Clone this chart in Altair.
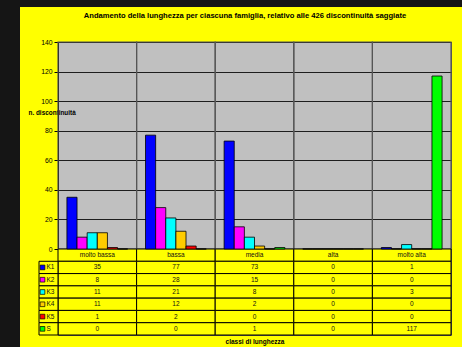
import altair as alt
import pandas as pd

# Classi di lunghezza e famiglie di discontinuità
categorie = ["molto bassa", "bassa", "media", "alta", "molto alta"]
famiglie = ["K1", "K2", "K3", "K4", "K5", "S"]
colori = ["#0000FF", "#FF00FF", "#00FFFF", "#FFCC00", "#FF0000", "#00FF00"]

valori_K1 = [35, 77, 73, 0, 1]
valori_K2 = [8, 28, 15, 0, 0]
valori_K3 = [11, 21, 8, 0, 3]
valori_K4 = [11, 12, 2, 0, 0]
valori_K5 = [1, 2, 0, 0, 0]
valori_S = [0, 0, 1, 0, 117]

tacche_y = [0, 20, 40, 60, 80, 100, 120, 140]

titolo = "Andamento della lunghezza per ciascuna famiglia, relativo alle 426 discontinuità  saggiate"

serie = {
    "K1": valori_K1, "K2": valori_K2, "K3": valori_K3,
    "K4": valori_K4, "K5": valori_K5, "S": valori_S,
}

righe = []
for fam, vals in serie.items():
    for cat, v in zip(categorie, vals):
        righe.append({"classe": cat, "famiglia": fam, "n": v, "testo": str(v)})
dati = pd.DataFrame(righe)

# intestazione della tabella (nomi delle classi) + celle dei valori
intestazione = pd.DataFrame({"classe": categorie, "famiglia": "classe", "testo": categorie})
celle = pd.concat([intestazione, dati[["classe", "famiglia", "testo"]]], ignore_index=True)
legenda = pd.DataFrame({"famiglia": famiglie})
colonne = pd.DataFrame({"classe": categorie, "base": 0, "cima": 140})
sfondo = pd.DataFrame({"titolo": [titolo]})

FONT = "Liberation Sans"
GIALLO = "#FFFF00"
W, H = 393, 293          # area del grafico + tabella
H_BARRE = 207            # altezza della parte con le barre

scala_colori = alt.Scale(domain=famiglie, range=colori)
scala_righe = alt.Scale(type="band", domain=["classe"] + famiglie,
                        range=[H_BARRE, H], paddingInner=0, paddingOuter=0)
scala_n = alt.Scale(domain=[0, 140], range=[H_BARRE, 0], nice=False)

asse_x = alt.Axis(
    grid=False, labels=False, ticks=False, domain=False,
    title="classi di lunghezza", titleFont=FONT, titleFontSize=6.5,
    titleFontWeight="bold", titleColor="black", titlePadding=3,
)
x_enc = alt.X("classe:N",
              scale=alt.Scale(domain=categorie, paddingInner=0, paddingOuter=0),
              axis=asse_x)
y_righe = alt.Y("famiglia:N", scale=scala_righe, axis=None)

# bordo scuro della pagina
striscia_sx = alt.Chart(sfondo).mark_rect(color="#151515").encode(
    x=alt.value(-58), x2=alt.value(-38), y=alt.value(-42), y2=alt.value(305))
striscia_su = alt.Chart(sfondo).mark_rect(color="#151515").encode(
    x=alt.value(-58), x2=alt.value(404), y=alt.value(-42), y2=alt.value(-35))

# titolo del grafico
intestazione_titolo = alt.Chart(sfondo).mark_text(
    font=FONT, fontSize=7.6, fontWeight="bold", color="black",
    align="center", baseline="middle",
).encode(x=alt.value(W / 2 - 9.5), y=alt.value(-26), text="titolo:N")

# separatori verticali tra le classi nell'area del grafico
separatori = alt.Chart(colonne).mark_rect(
    fillOpacity=0, stroke="#555555", strokeWidth=1.2,
).encode(
    x=x_enc,
    y=alt.Y("base:Q", scale=scala_n, axis=None),
    y2="cima:Q",
)

barre = alt.Chart(dati).mark_bar(stroke="black", strokeWidth=0.8).encode(
    x=x_enc,
    xOffset=alt.XOffset("famiglia:N",
                        scale=alt.Scale(domain=famiglie, paddingInner=0, paddingOuter=0.88)),
    y=alt.Y("n:Q",
            scale=scala_n,
            axis=alt.Axis(
                values=tacche_y, grid=True, gridColor="#1e1e1e", gridWidth=1,
                domainColor="black", domainWidth=1, tickColor="black", tickSize=4,
                labelFont=FONT, labelFontSize=6.8, labelColor="black",
                labelPadding=2, labelFlush=False,
                title="n. discontinuità", titleAngle=0, titleAlign="left",
                titleBaseline="middle", titleX=-30, titleY=70,
                titleFont=FONT, titleFontSize=6.4, titleFontWeight="bold",
                titleColor="black",
            )),
    fill=alt.Fill("famiglia:N", scale=scala_colori, legend=None),
)

tab_celle = alt.Chart(celle).mark_rect(fill=GIALLO, stroke="black", strokeWidth=1).encode(
    x=x_enc, y=y_righe)
tab_testi = alt.Chart(celle).mark_text(font=FONT, fontSize=6.5, color="#111111",
                                       baseline="middle").encode(
    x=x_enc, y=y_righe, text="testo:N")

leg_celle = alt.Chart(legenda).mark_rect(fill=GIALLO, stroke="black", strokeWidth=1).encode(
    x=alt.value(-19), x2=alt.value(0), y=y_righe)
leg_quadri = alt.Chart(legenda).mark_square(size=22, stroke="black", strokeWidth=0.7,
                                            opacity=1, filled=True).encode(
    x=alt.value(-15.5), y=y_righe,
    fill=alt.Fill("famiglia:N", scale=scala_colori, legend=None))
leg_testi = alt.Chart(legenda).mark_text(font=FONT, fontSize=6.5, color="#111111",
                                         align="left", baseline="middle").encode(
    x=alt.value(-11.5), y=y_righe, text="famiglia:N")

chart = alt.layer(
    striscia_sx, striscia_su, intestazione_titolo, separatori, tab_celle, barre,
    tab_testi, leg_celle, leg_quadri, leg_testi,
).resolve_scale(
    y="independent"
).properties(
    width=W, height=H,
    autosize=alt.AutoSizeParams(type="none"),
    padding={"left": 58, "top": 42, "right": 11, "bottom": 12},
    background=GIALLO,
).configure_view(
    fill="#C0C0C0", stroke="#555555", strokeWidth=1,
)

chart.save("out.html", embed_options={"renderer": "svg", "actions": False})
